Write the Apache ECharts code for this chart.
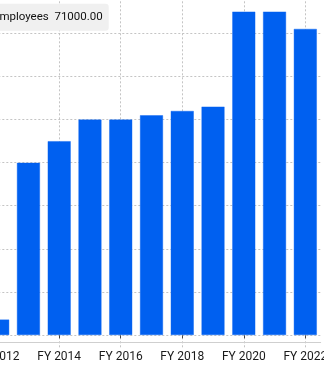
<!DOCTYPE html>
<html>
<head>
<meta charset="utf-8">
<script src="https://cdn.jsdelivr.net/npm/echarts@6/dist/echarts.min.js"></script>
<style>
html,body{margin:0;padding:0;background:#fff;overflow:hidden;width:324px;height:366px;position:relative;}
#c{position:absolute;left:-30px;top:-20px;width:364px;height:386px;}
</style>
</head>
<body>
<div id="c"></div>
<script>
var categories = ['FY 2012','FY 2013','FY 2014','FY 2015','FY 2016','FY 2017','FY 2018','FY 2019','FY 2020','FY 2021','FY 2022'];
var employees = [3700, 40000, 45000, 50000, 50000, 51000, 52000, 53000, 75000, 75000, 71000];
var seriesName = 'Employees';
var yMin = 0, yMax = 80000, yStep = 10000;

var OX = 30, OY = 20; // container offset (page is a crop of a wider chart)
var chart = echarts.init(document.getElementById('c'), null, {renderer: 'canvas'});
var FONT = 'Roboto, "DejaVu Sans", sans-serif';
var gridLine = {color: '#c4c4c4', width: 1, type: [2, 2]};
function everyOther(index) { return typeof index === 'number' && index % 2 === 0 && index < categories.length; }

chart.setOption({
  animation: false,
  grid: {left: OX - 17.7, right: 13.3, top: OY - 10.2, bottom: 30.7, containLabel: false},
  xAxis: [
    {
      type: 'category', position: 'bottom', data: categories, boundaryGap: true, offset: 12, z: 3,
      axisLine: {show: false},
      axisTick: {show: true, alignWithLabel: true, interval: everyOther, length: 3, lineStyle: {color: '#444', width: 1}},
      axisLabel: {show: true, interval: 1, margin: 4, color: '#1a1a1a', fontSize: 12, fontFamily: FONT},
      splitLine: {show: false}
    },
    {
      type: 'category', position: 'bottom', data: categories, boundaryGap: true, offset: 7.4, z: 2,
      axisLine: {show: true, lineStyle: {color: '#cfcfcf', width: 1}},
      axisTick: {show: false}, axisLabel: {show: false}, splitLine: {show: false}
    },
    {
      type: 'category', position: 'bottom', data: categories, boundaryGap: true, offset: 12, z: 1,
      axisLine: {show: false},
      axisTick: {show: true, inside: true, alignWithLabel: true, interval: everyOther, length: 358, lineStyle: gridLine},
      axisLabel: {show: false}, splitLine: {show: false}
    }
  ],
  yAxis: {
    type: 'value', min: yMin, max: yMax, interval: yStep,
    axisLine: {show: false}, axisTick: {show: false}, axisLabel: {show: false},
    splitLine: {show: true, lineStyle: gridLine}
  },
  series: [{
    name: seriesName, type: 'bar', xAxisIndex: 0, data: employees,
    barWidth: 23.5,
    itemStyle: {color: '#0060f0', borderColor: 'rgba(0,96,240,0.4)', borderWidth: 1}
  }],
  graphic: [{
    type: 'text', x: OX + 108.7, y: OY + 17.3, z: 100,
    style: {
      text: seriesName + '  ' + employees[employees.length - 1].toFixed(2),
      align: 'right', verticalAlign: 'middle', textAlign: 'right', textVerticalAlign: 'middle',
      font: '11.5px ' + FONT, fill: '#111',
      backgroundColor: '#f0f0f0', padding: [7, 6, 7, 6], borderRadius: 3, lineHeight: 13
    }
  }]
});
</script>
</body>
</html>
